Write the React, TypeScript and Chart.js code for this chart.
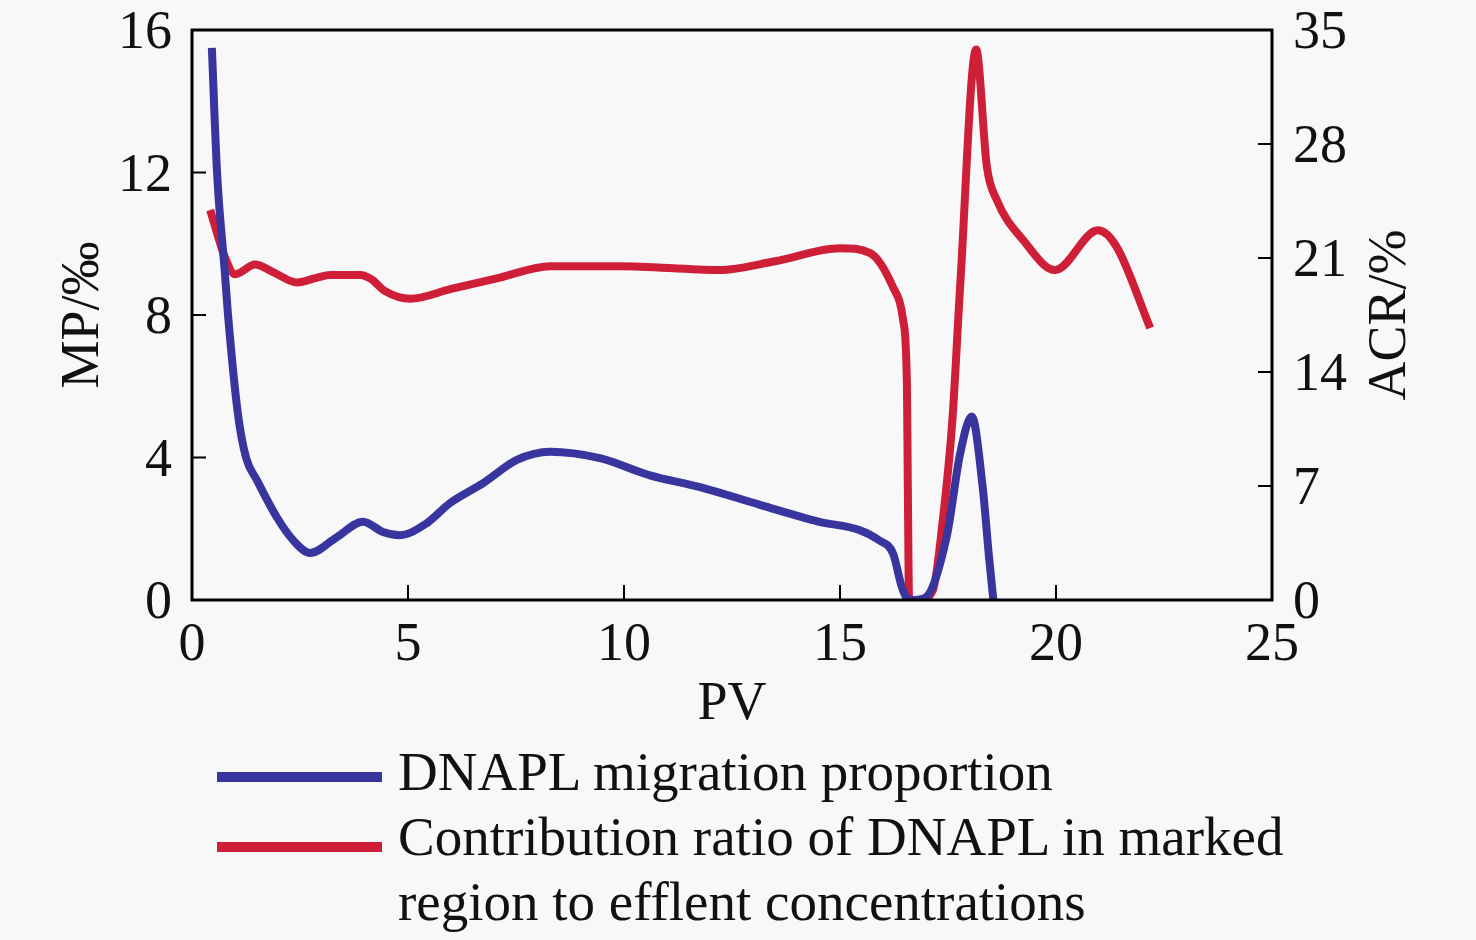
import { Chart, registerables, ChartItem } from "chart.js";
import { useEffect, useRef } from "react";

Chart.register(...registerables);

// DNAPL migration proportion (left axis, ‰)
const mpPV = [0.46, 0.58, 0.76, 0.83, 1.06, 1.25, 1.5, 1.96, 2.34, 2.73, 3.36, 3.96, 4.42, 4.81, 5.44, 5.97, 6.74, 7.52, 8.29, 9.44, 10.6, 11.76, 13.15, 14.5, 15.46, 15.9, 16.23, 16.43, 16.6, 16.95, 17.47, 17.78, 18.05, 18.3, 18.45, 18.55];
const mpValues = [15.5, 12.0, 9.2, 8.06, 5.25, 4.0, 3.37, 2.33, 1.68, 1.32, 1.77, 2.2, 1.91, 1.82, 2.16, 2.72, 3.28, 3.93, 4.16, 3.98, 3.5, 3.17, 2.67, 2.2, 1.96, 1.68, 1.3, 0.37, 0, 0.05, 1.78, 4.1, 5.15, 3.2, 1.2, 0];

// contribution ratio (right axis, %)
const acrPV = [0.42, 0.76, 1.0, 1.46, 1.9, 2.43, 2.9, 3.2, 3.9, 4.15, 4.45, 5.05, 6.0, 7.13, 8.29, 9.9, 12.2, 13.5, 15.0, 15.7, 16.23, 16.46, 16.55, 16.57, 16.6, 16.85, 17.15, 17.38, 17.6, 17.78, 18.15, 18.4, 18.63, 19.24, 19.98, 20.97, 21.4, 22.18];
const acrValues = [23.95, 21.06, 20.0, 20.6, 20.1, 19.5, 19.8, 19.96, 19.96, 19.7, 19.0, 18.5, 19.1, 19.8, 20.5, 20.5, 20.26, 20.8, 21.6, 21.3, 19.2, 17.2, 13.1, 6.9, 0, 0, 0.6, 4.9, 11, 19.2, 33.8, 26.6, 24.56, 22.1, 20.26, 22.7, 21.7, 16.7];

const legendLabels = [
  "DNAPL migration proportion",
  "Contribution ratio of DNAPL in marked region to efflent concentrations",
];

const BLUE = "#38359e";
const RED = "#cf1f38";
const FONT = '"Liberation Serif", "Times New Roman", serif';

const framePlugin = {
  id: "frame",
  afterDraw(chart: any) {
    const { ctx, chartArea: a, scales } = chart;
    ctx.save();
    ctx.strokeStyle = "#000";
    ctx.lineWidth = 2;
    const tick = (x1: number, y1: number, x2: number, y2: number) => {
      ctx.beginPath();
      ctx.moveTo(x1, y1);
      ctx.lineTo(x2, y2);
      ctx.stroke();
    };
    scales.x.ticks.forEach((t: any) => {
      const px = scales.x.getPixelForValue(t.value);
      tick(px, a.bottom, px, a.bottom - 15);
    });
    scales.y.ticks.forEach((t: any) => {
      const py = scales.y.getPixelForValue(t.value);
      tick(a.left, py, a.left + 14, py);
    });
    scales.y1.ticks.forEach((t: any) => {
      const py = scales.y1.getPixelForValue(t.value);
      tick(a.right, py, a.right - 14, py);
    });
    ctx.lineWidth = 3;
    ctx.strokeRect(a.left, a.top, a.right - a.left, a.bottom - a.top);

    ctx.fillStyle = "#111";
    ctx.font = `54px ${FONT}`;
    ctx.textAlign = "center";
    ctx.textBaseline = "middle";
    ctx.translate(1391, (a.top + a.bottom) / 2);
    ctx.rotate(-Math.PI / 2);
    ctx.fillText("ACR/%", 0, 0);
    ctx.restore();
  },
};

const LineChart = () => {
  const canvasRef = useRef(null);

  useEffect(() => {
    document.body.style.margin = "0";
    const canvas = canvasRef.current;
    if (canvas == null) return;

    const tickFont = { family: FONT, size: 54 };
    const chart = new Chart(canvas as ChartItem, {
      type: "line",
      data: {
        datasets: [
          {
            label: legendLabels[0],
            data: mpPV.map((x, i) => ({ x, y: mpValues[i] })),
            borderColor: BLUE,
            borderWidth: 8,
            pointRadius: 0,
            cubicInterpolationMode: "monotone",
            yAxisID: "y",
          },
          {
            label: legendLabels[1],
            data: acrPV.map((x, i) => ({ x, y: acrValues[i] })),
            borderColor: RED,
            borderWidth: 8,
            pointRadius: 0,
            cubicInterpolationMode: "monotone",
            yAxisID: "y1",
          },
        ],
      },
      options: {
        responsive: false,
        animation: false,
        layout: { padding: { top: 30, left: 0, right: 0, bottom: 0 } },
        plugins: { legend: { display: false }, tooltip: { enabled: false } },
        scales: {
          x: {
            type: "linear",
            min: 0,
            max: 25,
            grid: { display: false, drawTicks: false },
            border: { display: false },
            ticks: { stepSize: 5, color: "#111", font: tickFont, padding: 13, maxRotation: 0 },
            title: { display: true, text: "PV", color: "#111", font: tickFont, padding: { top: 0, bottom: 203 } },
            afterFit: (s: any) => {
              s.height = 340;
              s.paddingLeft = 0;
              s.paddingRight = 0;
            },
          },
          y: {
            position: "left",
            min: 0,
            max: 16,
            grid: { display: false, drawTicks: false },
            border: { display: false },
            ticks: { stepSize: 4, color: "#111", font: tickFont, padding: 20, labelOffset: 4 },
            title: { display: true, text: "MP/‰", color: "#111", font: tickFont, padding: { top: 51, bottom: 0 } },
            afterFit: (s: any) => {
              s.width = 192;
              s.paddingTop = 0;
              s.paddingBottom = 0;
            },
          },
          y1: {
            position: "right",
            min: 0,
            max: 35,
            grid: { display: false, drawTicks: false },
            border: { display: false },
            ticks: { stepSize: 7, color: "#111", font: tickFont, padding: 21, labelOffset: 4 },
            afterFit: (s: any) => {
              s.width = 204;
              s.paddingTop = 0;
              s.paddingBottom = 0;
            },
          },
        },
      },
      plugins: [framePlugin],
    });

    return () => {
      chart.destroy();
    };
  }, []);

  return <canvas ref={canvasRef} width={1476} height={940} style={{ position: "absolute", left: 0, top: 0 }}></canvas>;
};

const Legend = () => {
  const swatch = (color: string, top: number) => (
    <div style={{ position: "absolute", left: 217, top: top, width: 165, height: 10, background: color }}></div>
  );
  return (
    <>
      {swatch(BLUE, 772)}
      {swatch(RED, 842)}
      <div
        style={{
          position: "absolute",
          left: 398,
          top: 739,
          width: 1070,
          fontFamily: FONT,
          fontSize: 55,
          lineHeight: "65px",
          color: "#111",
        }}
      >
        <div>{legendLabels[0]}</div>
        <div>Contribution ratio of DNAPL in marked</div>
        <div>region to efflent concentrations</div>
      </div>
    </>
  );
};

export default function App() {
  return (
    <div style={{ position: "relative", width: 1476, height: 940, background: "#f8f8f8", overflow: "hidden" }}>
      <LineChart />
      <Legend />
    </div>
  );
}
